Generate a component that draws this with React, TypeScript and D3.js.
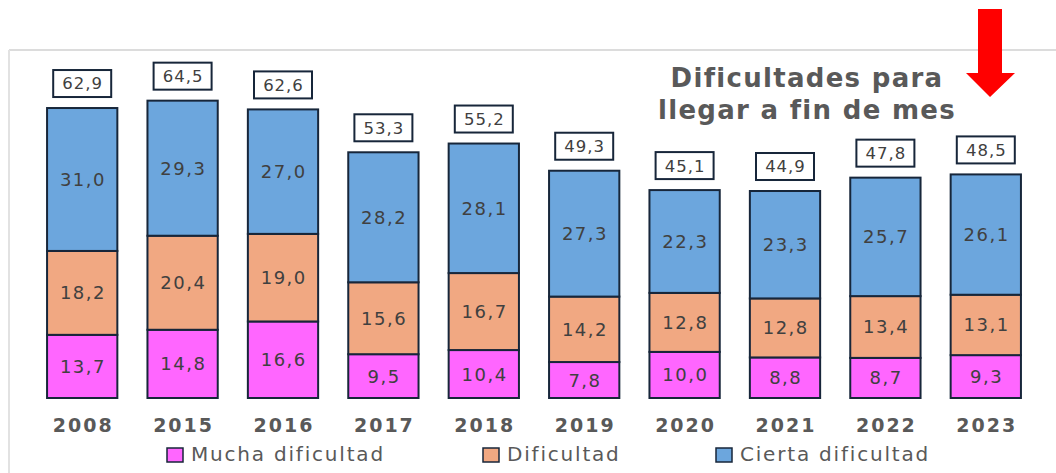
import React from "react";
import * as d3 from "d3";

const years = ["2008", "2015", "2016", "2017", "2018", "2019", "2020", "2021", "2022", "2023"];
const mucha = [13.7, 14.8, 16.6, 9.5, 10.4, 7.8, 10.0, 8.8, 8.7, 9.3];
const dificultad = [18.2, 20.4, 19.0, 15.6, 16.7, 14.2, 12.8, 12.8, 13.4, 13.1];
const cierta = [31.0, 29.3, 27.0, 28.2, 28.1, 27.3, 22.3, 23.3, 25.7, 26.1];
const totals = [62.9, 64.5, 62.6, 53.3, 55.2, 49.3, 45.1, 44.9, 47.8, 48.5];
const seriesNames = ["Mucha dificultad", "Dificultad", "Cierta dificultad"];
const seriesColors = ["#FF66FF", "#F1A882", "#6CA6DD"];
const titleLines = ["Dificultades para", "llegar a fin de mes"];

const fmt = (v: number) => d3.format(".1f")(v).replace(".", ",");

export default function App() {
  const W = 1056, H = 473;
  const x = d3.scaleBand<string>().domain(years).range([32, 1036]).paddingInner(0.3).paddingOuter(0.15);
  const y = d3.scaleLinear().domain([0, 70]).range([398, 398 - 70 * 4.61]);
  const series = [mucha, dificultad, cierta];
  const font = "'DejaVu Sans', Verdana, sans-serif";
  const textCol = "#404040";
  const labelCol = "#595959";
  const stroke = "#17263a";
  const legendX = [167, 483, 716];

  return (
    <svg width={W} height={H} style={{ position: "absolute", left: 0, top: 0, background: "#fff" }}>
      <rect x={0} y={0} width={W} height={H} fill="#fff" />
      {/* frame */}
      <line x1={9} y1={50} x2={W} y2={50} stroke="#dcdcdc" strokeWidth={2} />
      <line x1={9} y1={50} x2={9} y2={H} stroke="#e2e2e2" strokeWidth={2} />
      {/* bars */}
      {years.map((yr, i) => {
        let base = 0;
        const bx = x(yr)!;
        const bw = x.bandwidth();
        return (
          <g key={yr}>
            {series.map((s, j) => {
              const v = s[i];
              const y0 = y(base);
              const y1 = y(base + v);
              base += v;
              return (
                <g key={j}>
                  <rect x={bx} y={y1} width={bw} height={y0 - y1} fill={seriesColors[j]} stroke={stroke} strokeWidth={2} />
                  <text x={bx + bw / 2 + 0.75} y={(y0 + y1) / 2} dy="0.36em" textAnchor="middle" fontFamily={font} fontSize={18} letterSpacing={1.5} fill={textCol}>
                    {fmt(v)}
                  </text>
                </g>
              );
            })}
            <rect x={bx + bw / 2 - 29} y={y(totals[i]) - 38} width={58} height={27} fill="#fff" stroke={stroke} strokeWidth={2} />
            <text x={bx + bw / 2 + 0.5} y={y(totals[i]) - 24.5} dy="0.36em" textAnchor="middle" fontFamily={font} fontSize={16.5} letterSpacing={1} fill={textCol}>
              {fmt(totals[i])}
            </text>
            <text x={bx + bw / 2 + 1} y={432} textAnchor="middle" fontFamily={font} fontWeight="bold" fontSize={19} letterSpacing={2} fill={labelCol}>
              {yr}
            </text>
          </g>
        );
      })}
      {/* title */}
      {titleLines.map((t, i) => (
        <text key={i} x={807} y={87 + i * 32} textAnchor="middle" fontFamily={font} fontWeight="bold" fontSize={26} letterSpacing={1.3} fill={labelCol}>
          {t}
        </text>
      ))}
      {/* arrow */}
      <path d="M978,9 L1002,9 L1002,73 L1015,73 L990,97 L966,73 L978,73 Z" fill="#FF0000" />
      {/* legend */}
      {seriesNames.map((n, j) => (
        <g key={n}>
          <rect x={legendX[j]} y={448} width={16} height={14} fill={seriesColors[j]} stroke={stroke} strokeWidth={1.5} />
          <text x={legendX[j] + 24} y={461} fontFamily={font} fontSize={20} letterSpacing={1.8} fill={labelCol}>
            {n}
          </text>
        </g>
      ))}
    </svg>
  );
}
